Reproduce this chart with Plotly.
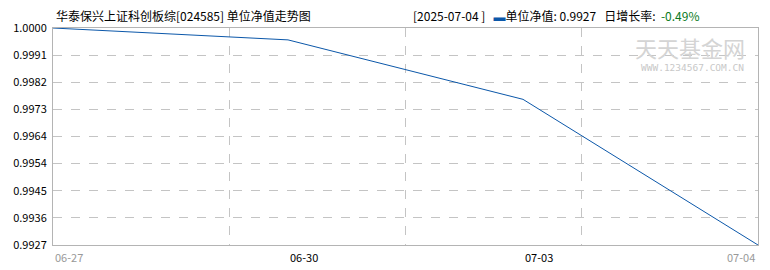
import plotly.graph_objects as go
import numpy as np

dates = ["06-27", "06-30", "07-03", "07-04"]
nav = [1.0000, 0.9996, 0.9976, 0.9927]
y_tick_labels = ["0.9927", "0.9936", "0.9945", "0.9954", "0.9964",
                 "0.9973", "0.9982", "0.9991", "1.0000"]
title_text = "华泰保兴上证科创板综[024585] 单位净值走势图"
latest_date = "2025-07-04"
latest_nav = "0.9927"
latest_change = "-0.49%"

FONT = "Noto Sans CJK SC"
LINE_COLOR = "#0b57a9"
GRID_COLOR = "#c4c4c4"
FRAME_COLOR = "#b4b4b4"

xi = list(range(len(dates)))
ymin, ymax = min(nav), max(nav)
y_tick_vals = list(np.linspace(ymin, ymax, len(y_tick_labels)))

fig = go.Figure()
fig.add_trace(go.Scatter(
    x=xi, y=nav, mode="lines",
    line=dict(color=LINE_COLOR, width=1),
    hoverinfo="skip", showlegend=False,
))

annotations = []
for i, d in enumerate(dates):
    last = i == len(dates) - 1
    edge = i == 0 or last
    annotations.append(dict(
        x=i, y=0, xref="x", yref="paper", yanchor="top",
        xanchor="right" if last else "left",
        text=d, showarrow=False, yshift=-2, xshift=-1 if last else 0,
        font=dict(family=FONT, size=11, color="#999999" if edge else "#000000"),
    ))

annotations.append(dict(
    x=0, y=1, xref="paper", yref="paper", xanchor="left", yanchor="bottom",
    xshift=1, yshift=2, showarrow=False, text=title_text,
    font=dict(family=FONT, size=12, color="#000000"),
))
annotations.append(dict(
    x=1, y=1, xref="paper", yref="paper", xanchor="right", yanchor="bottom",
    xshift=-57, yshift=2, showarrow=False,
    text=(f"[{latest_date} ]   <span style='color:{LINE_COLOR}'>▬</span>单位净值: {latest_nav}"
          f"   日增长率:  <span style='color:#0a7a1e'>{latest_change}</span>"),
    font=dict(family=FONT, size=12, color="#000000"),
))

# watermark
annotations.append(dict(
    x=1, y=1, xref="paper", yref="paper", xanchor="right", yanchor="top",
    xshift=-11, yshift=-1, showarrow=False, text="天天基金网",
    font=dict(family=FONT, size=22, color="#d4d4d4"),
))
annotations.append(dict(
    x=1, y=1, xref="paper", yref="paper", xanchor="right", yanchor="top",
    xshift=-12, yshift=-32, showarrow=False, text="WWW.1234567.COM.CN",
    font=dict(family="DejaVu Sans Mono", size=9.5, color="#c8c8c8"),
))

fig.update_layout(
    width=770, height=270,
    margin=dict(l=53, r=12, t=28, b=25),
    paper_bgcolor="white", plot_bgcolor="white",
    annotations=annotations,
    xaxis=dict(
        range=[0, len(dates) - 1], showticklabels=False, ticks="",
        showgrid=False, zeroline=False,
        showline=True, mirror=True, linecolor=FRAME_COLOR, linewidth=1,
        tick0=0, dtick=1,
        minor=dict(tick0=0, dtick=(len(dates) - 1) / 4, showgrid=True,
                   gridcolor=GRID_COLOR, griddash="dash", gridwidth=1, ticks=""),
    ),
    yaxis=dict(
        range=[ymin, ymax], tickmode="array", tickvals=y_tick_vals,
        ticktext=y_tick_labels, ticks="", ticklabelstandoff=3,
        showgrid=True, gridcolor=GRID_COLOR, griddash="dash", gridwidth=1,
        zeroline=False, showline=True, mirror=True, linecolor=FRAME_COLOR,
        linewidth=1, tickfont=dict(family=FONT, size=11, color="#000000"),
    ),
)

fig.write_html("out.html")
